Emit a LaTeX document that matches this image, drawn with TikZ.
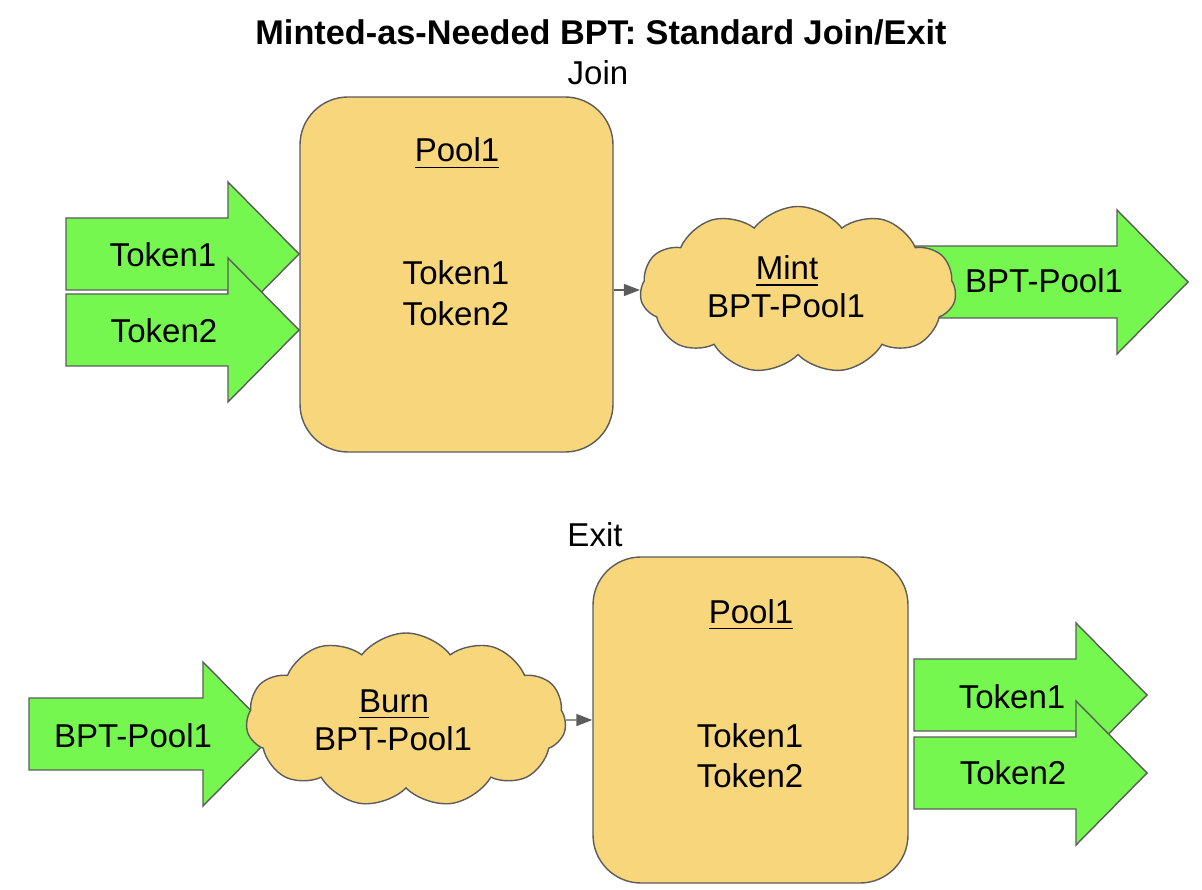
\documentclass[tikz,border=0pt]{standalone}
\usepackage{fontspec}
\setmainfont{Liberation Sans}
\usetikzlibrary{shapes.symbols,arrows.meta}
\definecolor{poolyellow}{RGB}{248,215,124}
\definecolor{tokengreen}{RGB}{118,247,80}
\definecolor{edgegray}{RGB}{92,92,92}
\tikzset{
  flow/.style={draw=edgegray, fill=tokengreen, line width=0.4pt},
  poolbox/.style={draw=edgegray, fill=poolyellow, rounded corners=0.48cm, line width=0.4pt, inner sep=0pt},
  puff/.style={cloud, cloud puffs=11, cloud puff arc=105, aspect=2, draw=edgegray, fill=poolyellow, line width=0.4pt, inner sep=0pt},
  conn/.style={draw=edgegray, line width=0.4pt, -{Triangle[length=0.16cm,width=0.12cm]}},
  lbl/.style={anchor=base, inner sep=0pt, font=\fontsize{9.4}{11}\selectfont},
  titletext/.style={anchor=base, inner sep=0pt, font=\fontsize{9.75}{11}\selectfont\bfseries}
}
\newcommand{\fatarrow}[3]{%
  \draw[flow](#1, #3-0.36) -- (#2, #3-0.36) -- (#2, #3-0.72) -- (#2+0.71, #3)
    -- (#2, #3+0.72) -- (#2, #3+0.36) -- (#1, #3+0.36) -- cycle;}
\begin{document}
\begin{tikzpicture}[x=1cm, y=-1cm]
  \useasboundingbox (0, 0) rectangle (12.02, 8.90);
  \node[titletext] (title) at (6.01, 0.45) {Minted-as-Needed BPT: Standard Join/Exit};
  \node[lbl] (join) at (5.98, 0.85) {Join};
  \fatarrow{0.66}{2.28}{2.54}
    \node[lbl] (jtok1) at (1.63, 2.67) {Token1};
  \fatarrow{0.66}{2.28}{3.30}
    \node[lbl] (jtok2) at (1.64, 3.43) {Token2};
  \node[poolbox, minimum width=3.13cm, minimum height=3.55cm] (jpool) at (4.565, 2.745) {};
    \node[lbl] (jpoolname) at (4.57, 1.62) {\underline{Pool1}};
    \node[lbl] (jpooltok1) at (4.56, 2.85) {Token1};
    \node[lbl] (jpooltok2) at (4.56, 3.26) {Token2};
  \fatarrow{9.00}{11.17}{2.82}
    \node[lbl] (jbpt) at (10.44, 2.93) {BPT-Pool1};
  \node[puff, minimum width=3.16cm, minimum height=1.67cm] (mint) at (7.98, 2.90) {};
    \node[lbl] (mintname) at (7.87, 2.80) {\underline{Mint}};
    \node[lbl] (mintbpt) at (7.86, 3.18) {BPT-Pool1};
  \draw[conn](jpool.east |- mint.west) to (mint.west);
  \node[lbl] (exit) at (5.95, 5.46) {Exit};
  \fatarrow{0.29}{2.03}{7.34}
    \node[lbl] (ebpt) at (1.33, 7.47) {BPT-Pool1};
  \node[puff, minimum width=3.20cm, minimum height=1.74cm] (burn) at (4.06, 7.20) {};
    \node[lbl] (burnname) at (3.94, 7.12) {\underline{Burn}};
    \node[lbl] (burnbpt) at (3.93, 7.50) {BPT-Pool1};
  \node[poolbox, minimum width=3.15cm, minimum height=3.26cm] (epool) at (7.505, 7.20) {};
    \node[lbl] (epoolname) at (7.51, 6.23) {\underline{Pool1}};
    \node[lbl] (epooltok1) at (7.50, 7.47) {Token1};
    \node[lbl] (epooltok2) at (7.50, 7.87) {Token2};
  \draw[conn](burn.east) to (epool.west);
  \fatarrow{9.14}{10.76}{6.95}
    \node[lbl] (etok1) at (10.12, 7.08) {Token1};
  \fatarrow{9.14}{10.76}{7.73}
    \node[lbl] (etok2) at (10.13, 7.84) {Token2};
\end{tikzpicture}
\end{document}
